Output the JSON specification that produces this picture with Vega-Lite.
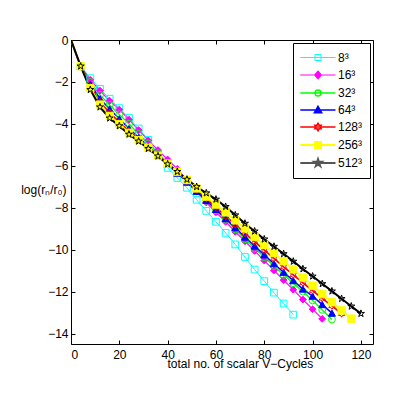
{
 "$schema": "https://vega.github.io/schema/vega-lite/v6.json",
 "width": 302,
 "height": 304,
 "autosize": {"type": "none"},
 "padding": {"left": 71, "top": 40, "right": 41, "bottom": 55},
 "background": "white",
 "config": {
  "font": "Liberation Sans",
  "view": {"stroke": "#000", "strokeWidth": 1},
  "axis": {"grid": false, "domain": false, "tickColor": "#000", "tickSize": -4, "tickWidth": 1, "labelColor": "#000", "labelFontSize": 12, "titleColor": "#000", "titleFontSize": 12, "titleFontWeight": "normal", "labelFont": "Liberation Sans", "titleFont": "Liberation Sans"}
 },
 "datasets": {
  "runs": [
   {"grid":"8³","cycles":0,"log_res":0},{"grid":"8³","cycles":4,"log_res":-1.25},{"grid":"8³","cycles":8,"log_res":-1.82},{"grid":"8³","cycles":12,"log_res":-2.33},{"grid":"8³","cycles":16,"log_res":-2.8},{"grid":"8³","cycles":20,"log_res":-3.25},{"grid":"8³","cycles":24,"log_res":-3.72},{"grid":"8³","cycles":28,"log_res":-4.22},{"grid":"8³","cycles":32,"log_res":-4.76},{"grid":"8³","cycles":36,"log_res":-5.45},{"grid":"8³","cycles":40,"log_res":-6.1},{"grid":"8³","cycles":44,"log_res":-6.58},{"grid":"8³","cycles":48,"log_res":-7.05},{"grid":"8³","cycles":52,"log_res":-7.62},{"grid":"8³","cycles":56,"log_res":-8.15},{"grid":"8³","cycles":60,"log_res":-8.67},{"grid":"8³","cycles":64,"log_res":-9.2},{"grid":"8³","cycles":68,"log_res":-9.75},{"grid":"8³","cycles":72,"log_res":-10.35},{"grid":"8³","cycles":76,"log_res":-10.95},{"grid":"8³","cycles":80,"log_res":-11.5},{"grid":"8³","cycles":84,"log_res":-12.05},{"grid":"8³","cycles":88,"log_res":-12.57},{"grid":"8³","cycles":92,"log_res":-13.1},
   {"grid":"16³","cycles":0,"log_res":0},{"grid":"16³","cycles":4,"log_res":-1.25},{"grid":"16³","cycles":8,"log_res":-1.9},{"grid":"16³","cycles":12,"log_res":-2.42},{"grid":"16³","cycles":16,"log_res":-2.9},{"grid":"16³","cycles":20,"log_res":-3.32},{"grid":"16³","cycles":24,"log_res":-3.8},{"grid":"16³","cycles":28,"log_res":-4.3},{"grid":"16³","cycles":32,"log_res":-4.79},{"grid":"16³","cycles":36,"log_res":-5.25},{"grid":"16³","cycles":40,"log_res":-5.7},{"grid":"16³","cycles":44,"log_res":-6.15},{"grid":"16³","cycles":48,"log_res":-6.68},{"grid":"16³","cycles":52,"log_res":-7.22},{"grid":"16³","cycles":56,"log_res":-7.75},{"grid":"16³","cycles":60,"log_res":-8.22},{"grid":"16³","cycles":64,"log_res":-8.67},{"grid":"16³","cycles":68,"log_res":-9.15},{"grid":"16³","cycles":72,"log_res":-9.6},{"grid":"16³","cycles":76,"log_res":-10.06},{"grid":"16³","cycles":80,"log_res":-10.52},{"grid":"16³","cycles":84,"log_res":-10.99},{"grid":"16³","cycles":88,"log_res":-11.45},{"grid":"16³","cycles":92,"log_res":-11.91},{"grid":"16³","cycles":96,"log_res":-12.38},{"grid":"16³","cycles":100,"log_res":-12.84},{"grid":"16³","cycles":104,"log_res":-13.3},
   {"grid":"32³","cycles":0,"log_res":0},{"grid":"32³","cycles":4,"log_res":-1.25},{"grid":"32³","cycles":8,"log_res":-2.0},{"grid":"32³","cycles":12,"log_res":-2.62},{"grid":"32³","cycles":16,"log_res":-3.1},{"grid":"32³","cycles":20,"log_res":-3.55},{"grid":"32³","cycles":24,"log_res":-4.0},{"grid":"32³","cycles":28,"log_res":-4.48},{"grid":"32³","cycles":32,"log_res":-4.94},{"grid":"32³","cycles":36,"log_res":-5.4},{"grid":"32³","cycles":40,"log_res":-5.85},{"grid":"32³","cycles":44,"log_res":-6.3},{"grid":"32³","cycles":48,"log_res":-6.76},{"grid":"32³","cycles":52,"log_res":-7.22},{"grid":"32³","cycles":56,"log_res":-7.67},{"grid":"32³","cycles":60,"log_res":-8.12},{"grid":"32³","cycles":64,"log_res":-8.57},{"grid":"32³","cycles":68,"log_res":-9.03},{"grid":"32³","cycles":72,"log_res":-9.5},{"grid":"32³","cycles":76,"log_res":-9.93},{"grid":"32³","cycles":80,"log_res":-10.36},{"grid":"32³","cycles":84,"log_res":-10.78},{"grid":"32³","cycles":88,"log_res":-11.2},{"grid":"32³","cycles":92,"log_res":-11.6},{"grid":"32³","cycles":96,"log_res":-12.0},{"grid":"32³","cycles":100,"log_res":-12.42},{"grid":"32³","cycles":104,"log_res":-12.87},{"grid":"32³","cycles":108,"log_res":-13.33},
   {"grid":"64³","cycles":0,"log_res":0},{"grid":"64³","cycles":4,"log_res":-1.25},{"grid":"64³","cycles":8,"log_res":-2.1},{"grid":"64³","cycles":12,"log_res":-2.8},{"grid":"64³","cycles":16,"log_res":-3.29},{"grid":"64³","cycles":20,"log_res":-3.76},{"grid":"64³","cycles":24,"log_res":-4.22},{"grid":"64³","cycles":28,"log_res":-4.65},{"grid":"64³","cycles":32,"log_res":-5.07},{"grid":"64³","cycles":36,"log_res":-5.5},{"grid":"64³","cycles":40,"log_res":-5.92},{"grid":"64³","cycles":44,"log_res":-6.35},{"grid":"64³","cycles":48,"log_res":-6.78},{"grid":"64³","cycles":52,"log_res":-7.22},{"grid":"64³","cycles":56,"log_res":-7.65},{"grid":"64³","cycles":60,"log_res":-8.08},{"grid":"64³","cycles":64,"log_res":-8.52},{"grid":"64³","cycles":68,"log_res":-8.95},{"grid":"64³","cycles":72,"log_res":-9.4},{"grid":"64³","cycles":76,"log_res":-9.83},{"grid":"64³","cycles":80,"log_res":-10.25},{"grid":"64³","cycles":84,"log_res":-10.67},{"grid":"64³","cycles":88,"log_res":-11.08},{"grid":"64³","cycles":92,"log_res":-11.48},{"grid":"64³","cycles":96,"log_res":-11.88},{"grid":"64³","cycles":100,"log_res":-12.22},{"grid":"64³","cycles":104,"log_res":-12.62},{"grid":"64³","cycles":108,"log_res":-13.03},
   {"grid":"128³","cycles":0,"log_res":0},{"grid":"128³","cycles":4,"log_res":-1.25},{"grid":"128³","cycles":8,"log_res":-2.22},{"grid":"128³","cycles":12,"log_res":-2.95},{"grid":"128³","cycles":16,"log_res":-3.48},{"grid":"128³","cycles":20,"log_res":-3.92},{"grid":"128³","cycles":24,"log_res":-4.35},{"grid":"128³","cycles":28,"log_res":-4.73},{"grid":"128³","cycles":32,"log_res":-5.1},{"grid":"128³","cycles":36,"log_res":-5.5},{"grid":"128³","cycles":40,"log_res":-5.9},{"grid":"128³","cycles":44,"log_res":-6.3},{"grid":"128³","cycles":48,"log_res":-6.72},{"grid":"128³","cycles":52,"log_res":-7.14},{"grid":"128³","cycles":56,"log_res":-7.56},{"grid":"128³","cycles":60,"log_res":-7.98},{"grid":"128³","cycles":64,"log_res":-8.4},{"grid":"128³","cycles":68,"log_res":-8.8},{"grid":"128³","cycles":72,"log_res":-9.22},{"grid":"128³","cycles":76,"log_res":-9.62},{"grid":"128³","cycles":80,"log_res":-10.02},{"grid":"128³","cycles":84,"log_res":-10.42},{"grid":"128³","cycles":88,"log_res":-10.82},{"grid":"128³","cycles":92,"log_res":-11.2},{"grid":"128³","cycles":96,"log_res":-11.58},{"grid":"128³","cycles":100,"log_res":-11.95},{"grid":"128³","cycles":104,"log_res":-12.32},{"grid":"128³","cycles":108,"log_res":-12.68},{"grid":"128³","cycles":112,"log_res":-13.05},
   {"grid":"256³","cycles":0,"log_res":0},{"grid":"256³","cycles":4,"log_res":-1.25},{"grid":"256³","cycles":8,"log_res":-2.3},{"grid":"256³","cycles":12,"log_res":-3.08},{"grid":"256³","cycles":16,"log_res":-3.62},{"grid":"256³","cycles":20,"log_res":-4.02},{"grid":"256³","cycles":24,"log_res":-4.43},{"grid":"256³","cycles":28,"log_res":-4.78},{"grid":"256³","cycles":32,"log_res":-5.14},{"grid":"256³","cycles":36,"log_res":-5.52},{"grid":"256³","cycles":40,"log_res":-5.9},{"grid":"256³","cycles":44,"log_res":-6.28},{"grid":"256³","cycles":48,"log_res":-6.68},{"grid":"256³","cycles":52,"log_res":-7.08},{"grid":"256³","cycles":56,"log_res":-7.47},{"grid":"256³","cycles":60,"log_res":-7.85},{"grid":"256³","cycles":64,"log_res":-8.22},{"grid":"256³","cycles":68,"log_res":-8.6},{"grid":"256³","cycles":72,"log_res":-8.99},{"grid":"256³","cycles":76,"log_res":-9.38},{"grid":"256³","cycles":80,"log_res":-9.77},{"grid":"256³","cycles":84,"log_res":-10.16},{"grid":"256³","cycles":88,"log_res":-10.55},{"grid":"256³","cycles":92,"log_res":-10.94},{"grid":"256³","cycles":96,"log_res":-11.33},{"grid":"256³","cycles":100,"log_res":-11.72},{"grid":"256³","cycles":104,"log_res":-12.12},{"grid":"256³","cycles":108,"log_res":-12.51},{"grid":"256³","cycles":112,"log_res":-12.9},{"grid":"256³","cycles":116,"log_res":-13.29},
   {"grid":"512³","cycles":0,"log_res":0},{"grid":"512³","cycles":4,"log_res":-1.25},{"grid":"512³","cycles":8,"log_res":-2.37},{"grid":"512³","cycles":12,"log_res":-3.2},{"grid":"512³","cycles":16,"log_res":-3.73},{"grid":"512³","cycles":20,"log_res":-4.1},{"grid":"512³","cycles":24,"log_res":-4.5},{"grid":"512³","cycles":28,"log_res":-4.83},{"grid":"512³","cycles":32,"log_res":-5.18},{"grid":"512³","cycles":36,"log_res":-5.54},{"grid":"512³","cycles":40,"log_res":-5.92},{"grid":"512³","cycles":44,"log_res":-6.28},{"grid":"512³","cycles":48,"log_res":-6.65},{"grid":"512³","cycles":52,"log_res":-7.0},{"grid":"512³","cycles":56,"log_res":-7.3},{"grid":"512³","cycles":60,"log_res":-7.6},{"grid":"512³","cycles":64,"log_res":-7.95},{"grid":"512³","cycles":68,"log_res":-8.35},{"grid":"512³","cycles":72,"log_res":-8.75},{"grid":"512³","cycles":76,"log_res":-9.12},{"grid":"512³","cycles":80,"log_res":-9.5},{"grid":"512³","cycles":84,"log_res":-9.85},{"grid":"512³","cycles":88,"log_res":-10.2},{"grid":"512³","cycles":92,"log_res":-10.56},{"grid":"512³","cycles":96,"log_res":-10.92},{"grid":"512³","cycles":100,"log_res":-11.27},{"grid":"512³","cycles":104,"log_res":-11.63},{"grid":"512³","cycles":108,"log_res":-11.98},{"grid":"512³","cycles":112,"log_res":-12.34},{"grid":"512³","cycles":116,"log_res":-12.7},{"grid":"512³","cycles":120,"log_res":-13.05}
  ]
 },
 "data": {"name": "runs"},
 "resolve": {
  "axis": {"x": "independent", "y": "independent"},
  "scale": {"shape": "independent", "fill": "independent", "stroke": "independent", "strokeWidth": "independent", "size": "independent"}
 },
 "layer": [
  {
   "mark": {"type": "line", "clip": true},
   "encoding": {
    "x": {"field": "cycles", "type": "quantitative", "scale": {"domain": [0, 125], "nice": false, "zero": false},
          "axis": {"orient": "bottom", "values": [0, 20, 40, 60, 80, 100, 120], "labelPadding": 9, "title": "total no. of scalar V−Cycles", "titleAlign": "left", "titleAnchor": "start", "titleX": 96, "titleY": 23, "titleBaseline": "alphabetic"}},
    "y": {"field": "log_res", "type": "quantitative", "scale": {"domain": [-14.5, 0], "nice": false, "zero": false},
          "axis": {"orient": "left", "values": [-14, -12, -10, -8, -6, -4, -2, 0], "labelPadding": 7, "title": "log(rₙ/r₀)", "titleAngle": 0, "titleAlign": "right", "titleBaseline": "middle", "titleX": -5, "titleY": 149}},
    "color": {"field": "grid", "type": "nominal", "legend": null,
              "scale": {"domain": ["8³", "16³", "32³", "64³", "128³", "256³", "512³"], "range": ["#00ffff", "#ff00ff", "#00ff00", "#0000ff", "#ff0000", "#ffff00", "#000000"]}},
    "strokeWidth": {"field": "grid", "type": "nominal", "scale": {"domain": ["8³", "16³", "32³", "64³", "128³", "256³", "512³"], "range": [1, 2, 1, 2, 1, 2, 1]}, "legend": null}
   }
  },
  {
   "transform": [{"filter": "datum.cycles > 0"}],
   "mark": {"type": "point", "filled": false, "opacity": 1, "strokeWidth": 1, "clip": true},
   "encoding": {
    "x": {"field": "cycles", "type": "quantitative", "axis": {"orient": "top", "values": [0, 20, 40, 60, 80, 100, 120], "labels": false, "title": null}},
    "y": {"field": "log_res", "type": "quantitative", "axis": {"orient": "right", "values": [-14, -12, -10, -8, -6, -4, -2, 0], "labels": false, "title": null}},
    "shape": {"field": "grid", "type": "nominal", "scale": {"domain": ["8³", "16³", "32³", "64³", "128³", "256³", "512³"], "range": ["square", "diamond", "circle", "triangle-up", "M0,-1L0.289,-0.5L0.866,-0.5L0.577,0L0.866,0.5L0.289,0.5L0,1L-0.289,0.5L-0.866,0.5L-0.577,0L-0.866,-0.5L-0.289,-0.5Z", "square", "M0,-1L0.225,-0.309L0.951,-0.309L0.363,0.118L0.588,0.809L0,0.382L-0.588,0.809L-0.363,0.118L-0.951,-0.309L-0.225,-0.309Z"]}, "legend": null},
    "fill": {"field": "grid", "type": "nominal", "scale": {"domain": ["8³", "16³", "32³", "64³", "128³", "256³", "512³"], "range": ["transparent", "#ff00ff", "transparent", "#0000ff", "transparent", "#ffff00", "transparent"]}, "legend": null},
    "stroke": {"field": "grid", "type": "nominal", "scale": {"domain": ["8³", "16³", "32³", "64³", "128³", "256³", "512³"], "range": ["#00ffff", "#ff00ff", "#00ff00", "#0000ff", "#ff0000", "#ffff00", "#000000"]}, "legend": null},
    "size": {"field": "grid", "type": "nominal", "scale": {"domain": ["8³", "16³", "32³", "64³", "128³", "256³", "512³"], "range": [45, 55, 45, 55, 60, 45, 62]}, "legend": null}
   }
  },
  {
   "transform": [{"filter": "datum.cycles < 0"}],
   "mark": {"type": "point", "filled": false, "opacity": 1},
   "encoding": {
    "shape": {"field": "grid", "type": "nominal",
              "scale": {"domain": ["8³", "16³", "32³", "64³", "128³", "256³", "512³"], "range": [
                "M-1.1,0H3.93M1.0,-0.43H1.86V0.43H1.0Z",
                "M-1.1,0H3.93M1.43,-0.56L1.9,0L1.43,0.56L0.96,0Z",
                "M-1.1,0H3.93M1.86,0A0.43,0.43,0,1,1,1.0,0A0.43,0.43,0,1,1,1.86,0Z",
                "M-1.1,0H3.93M1.43,-0.52L1.95,0.4H0.91Z",
                "M-1.1,0H3.93M1.43,-0.5L1.574,-0.25L1.863,-0.25L1.719,0L1.863,0.25L1.574,0.25L1.43,0.5L1.286,0.25L0.997,0.25L1.141,0L0.997,-0.25L1.286,-0.25Z",
                "M-1.1,0H3.93M1.0,-0.43H1.86V0.43H1.0Z",
                "M-1.1,0H3.93M1.43,-0.55L1.554,-0.17L1.953,-0.17L1.63,0.065L1.753,0.445L1.43,0.21L1.107,0.445L1.23,0.065L0.907,-0.17L1.306,-0.17Z"]},
              "legend": {"orient": "none", "legendX": 222, "legendY": 3, "title": null, "symbolSize": 196,
                         "labelFont": "Liberation Sans", "labelFontSize": 12, "labelColor": "#000", "labelOffset": 22,
                         "strokeColor": "#000", "fillColor": "#fff", "padding": 7, "rowPadding": 3}},
    "fill": {"field": "grid", "type": "nominal", "scale": {"domain": ["8³", "16³", "32³", "64³", "128³", "256³", "512³"], "range": ["transparent", "#ff00ff", "transparent", "#0000ff", "transparent", "#ffff00", "transparent"]}, "legend": {"title": null}},
    "stroke": {"field": "grid", "type": "nominal", "scale": {"domain": ["8³", "16³", "32³", "64³", "128³", "256³", "512³"], "range": ["#00ffff", "#ff00ff", "#00ff00", "#0000ff", "#ff0000", "#ffff00", "#555555"]}, "legend": {"title": null}},
    "strokeWidth": {"field": "grid", "type": "nominal", "scale": {"domain": ["8³", "16³", "32³", "64³", "128³", "256³", "512³"], "range": [1, 2, 1, 2, 1, 2, 1.5]}, "legend": {"title": null}}
   }
  }
 ]
}
